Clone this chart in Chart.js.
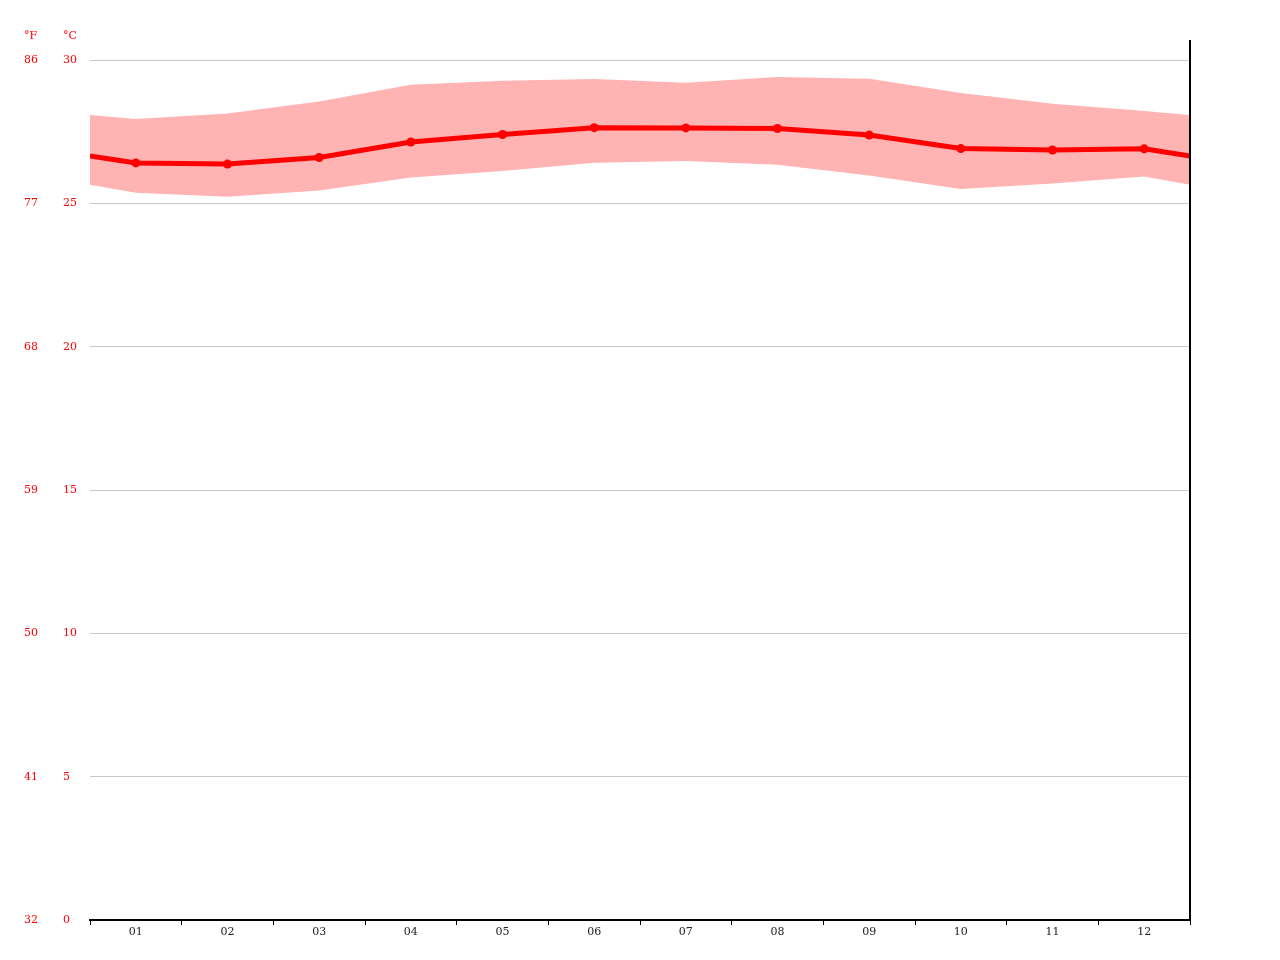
<!DOCTYPE html>
<html>
<head>
<meta charset="utf-8">
<script src="https://cdn.jsdelivr.net/npm/chart.js@4.4.1/dist/chart.umd.min.js"></script>
<style>
    html, body { margin: 0; padding: 0; background: #fff; }
    #wrap { width: 1280px; height: 960px; }
</style>
</head>
<body>
<div id="wrap"><canvas id="climateChart" width="1280" height="960"></canvas></div>
<script>
// Monthly temperature data (°C)
const months = ['01', '02', '03', '04', '05', '06', '07', '08', '09', '10', '11', '12'];
const meanTemp = [26.41, 26.37, 26.6, 27.14, 27.4, 27.64, 27.63, 27.61, 27.38, 26.91, 26.86, 26.9];
const highTemp = [27.94, 28.13, 28.55, 29.14, 29.28, 29.34, 29.21, 29.41, 29.35, 28.85, 28.47, 28.22];
const lowTemp = [25.37, 25.23, 25.45, 25.9, 26.13, 26.42, 26.48, 26.35, 25.97, 25.5, 25.69, 25.94];
// values at the left / right edge of the plot (year wrap)
const edgeTemp = { mean: 26.65, high: 28.08, low: 25.65 };

const celsiusTicks = [0, 5, 10, 15, 20, 25, 30];
const fahrenheitTicks = [32, 41, 50, 59, 68, 77, 86];

const FONT = 'DejaVu Serif';
const RED = '#ff0000';

function toPoints(values, edge) {
    const pts = [{ x: 0.5, y: edge }];
    values.forEach((v, i) => pts.push({ x: i + 1, y: v }));
    pts.push({ x: months.length + 0.5, y: edge });
    return pts;
}

// draws the unit titles and the right frame line
const extrasPlugin = {
    id: 'extras',
    afterDraw(chart) {
        const ctx = chart.ctx;
        const area = chart.chartArea;
        ctx.save();
        ctx.strokeStyle = '#000';
        ctx.lineWidth = 2;
        ctx.beginPath();
        ctx.moveTo(area.right, area.top - 20);
        ctx.lineTo(area.right, area.bottom);
        ctx.stroke();

        ctx.fillStyle = RED;
        ctx.font = '11px "' + FONT + '"';
        ctx.textBaseline = 'middle';
        ctx.textAlign = 'left';
        ctx.fillText('°F', chart.scales.yF.left, area.top - 24);
        ctx.fillText('°C', chart.scales.yC.left, area.top - 24);
        ctx.restore();
    }
};

const ctx = document.getElementById('climateChart');

new Chart(ctx, {
    type: 'line',
    data: {
        datasets: [{
            label: 'low',
            data: toPoints(lowTemp, edgeTemp.low),
            yAxisID: 'yC',
            borderWidth: 0,
            pointRadius: 0,
            fill: false,
            order: 3
        }, {
            label: 'high',
            data: toPoints(highTemp, edgeTemp.high),
            yAxisID: 'yC',
            borderWidth: 0,
            pointRadius: 0,
            backgroundColor: 'rgb(255, 179, 179)',
            fill: '-1',
            order: 2
        }, {
            label: 'mean',
            data: toPoints(meanTemp, edgeTemp.mean),
            yAxisID: 'yC',
            borderColor: RED,
            borderWidth: 5,
            backgroundColor: RED,
            pointBackgroundColor: RED,
            pointBorderWidth: 0,
            pointRadius: c => (c.raw && Number.isInteger(c.raw.x)) ? 4.5 : 0,
            fill: false,
            tension: 0,
            order: 1
        }]
    },
    options: {
        responsive: false,
        animation: false,
        layout: { padding: { left: 24, right: 90, top: 60, bottom: 0 } },
        plugins: {
            legend: { display: false },
            tooltip: { enabled: false }
        },
        scales: {
            x: {
                type: 'linear',
                position: 'bottom',
                min: 0.5,
                max: months.length + 0.5,
                afterBuildTicks: axis => {
                    const t = [];
                    for (let v = 0.5; v <= months.length + 0.5; v += 0.5) t.push({ value: v });
                    axis.ticks = t;
                },
                afterFit: axis => { axis.height = 40; },
                grid: {
                    drawOnChartArea: false,
                    drawTicks: true,
                    tickLength: 5,
                    tickWidth: 1,
                    tickColor: c => Number.isInteger(c.tick.value) ? 'rgba(0,0,0,0)' : '#000'
                },
                border: { display: true, color: '#000', width: 2 },
                ticks: {
                    autoSkip: false,
                    maxRotation: 0,
                    padding: 1,
                    color: '#222',
                    font: { family: FONT, size: 11 },
                    callback: v => Number.isInteger(v) ? months[v - 1] : ''
                }
            },
            yC: {
                type: 'linear',
                position: 'left',
                weight: 0,
                min: 0,
                max: 30,
                afterBuildTicks: axis => { axis.ticks = celsiusTicks.map(v => ({ value: v })); },
                afterFit: axis => { axis.width = 27; },
                grid: { color: '#c8c8c8', drawTicks: false, lineWidth: 1 },
                border: { display: false },
                ticks: {
                    crossAlign: 'far',
                    padding: 0,
                    color: RED,
                    font: { family: FONT, size: 11 }
                }
            },
            yF: {
                type: 'linear',
                position: 'left',
                weight: 1,
                min: 32,
                max: 86,
                afterBuildTicks: axis => { axis.ticks = fahrenheitTicks.map(v => ({ value: v })); },
                afterFit: axis => { axis.width = 39; },
                grid: { drawOnChartArea: false, drawTicks: false },
                border: { display: false },
                ticks: {
                    crossAlign: 'far',
                    padding: 0,
                    color: RED,
                    font: { family: FONT, size: 11 }
                }
            }
        }
    },
    plugins: [extrasPlugin]
});
</script>
</body>
</html>
